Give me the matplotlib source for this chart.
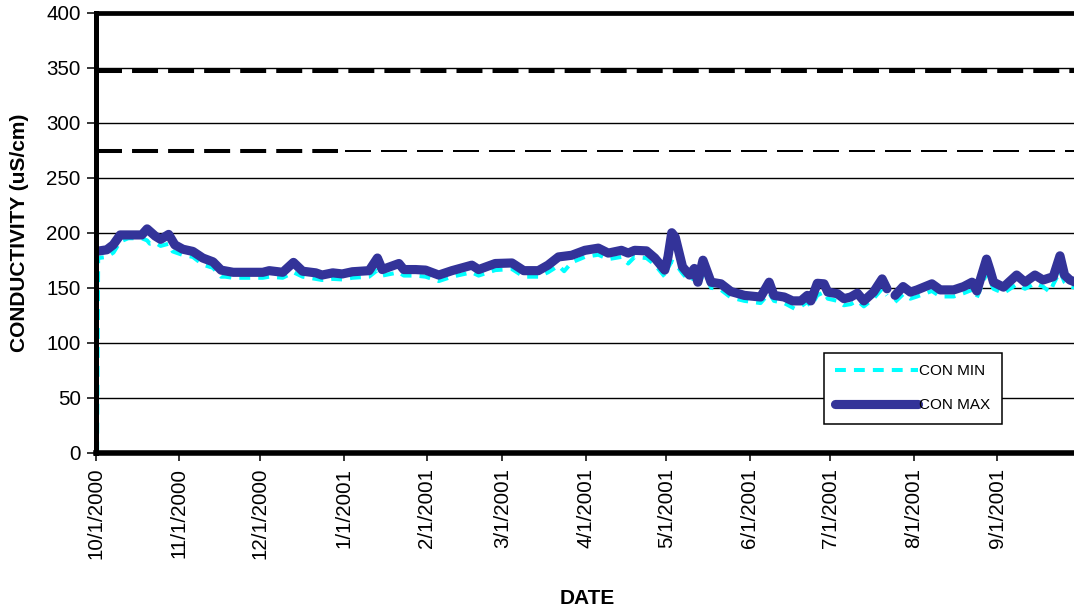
import numpy as np
import matplotlib
matplotlib.use("Agg")
import matplotlib.pyplot as plt

# ---------------- data (x = days since 10/1/2000) ----------------
MONTH_DAYS = [0, 31, 61, 92, 123, 151, 182, 212, 243, 273, 304, 335]
MONTH_LABELS = ["10/1/2000", "11/1/2000", "12/1/2000", "1/1/2001", "2/1/2001",
                "3/1/2001", "4/1/2001", "5/1/2001", "6/1/2001", "7/1/2001",
                "8/1/2001", "9/1/2001"]

MAX_DAYS = [0, 4, 6.4, 9, 17, 19, 22, 24, 27, 29.3, 32.3, 36, 39.7, 43.5, 46.5,
            51, 62, 64.4, 69.4, 73.4, 76.8, 81.7, 84, 88, 91.5, 95.3, 101.5,
            104.6, 106.4, 112.6, 114.4, 118.8, 122.5, 127.4, 132.3, 139.7, 142.2,
            148.4, 154.6, 159, 164.4, 168, 171.9, 176.8, 181.7, 186.7, 190.4,
            195.3, 197.8, 200.2, 204.6, 207.7, 211.4, 212.6, 214, 215.3, 218,
            220.6, 222.4, 223.7, 225.6, 226.8, 228.6, 232.3, 236, 241, 247,
            250.2, 252, 255.8, 258.9, 262, 264.4, 265.7, 268.1, 270.6, 272,
            275.6, 278, 280.5, 283, 285.4, 289, 292.2, 294, 295.5, 297, 300,
            302.7, 305.2, 310.7, 313.8, 318.8, 322.5, 325.6, 327.4, 331, 332.3,
            333.6, 337.3, 342.2, 345.3, 349, 352, 355.8, 358.3, 360, 362, 364]
MAX_VALUES = [183, 184.5, 189, 198, 198, 203.5, 197, 194, 198.5, 189, 185, 183,
              177, 173.5, 166, 164, 164, 165.5, 164, 173, 165, 163.5, 161.5,
              163.5, 162.5, 164.5, 165.5, 177, 166.5, 172, 166.5, 166.5, 166,
              161.5, 165.5, 170.5, 166.5, 172, 172.5, 165.5, 165.5, 170.5, 178,
              179.5, 184, 186, 181.5, 184, 181.5, 184, 183.5, 177, 166, 178,
              200, 196, 169, 161.5, 167.5, 155, 175, 167, 155, 153.5, 146.5, 143,
              141.5, 155, 143, 141.5, 138, 138, 143, 138, 154, 153.5, 146, 144.5,
              140, 141.5, 145, 138, 146, 158, 149, np.nan, 143, 151, 146, 148,
              153.5, 148, 148, 151, 155, 147, 176, 166, 155, 150.5, 161.5, 155,
              161.5, 157, 160, 179, 161.5, 157, 155]

MIN_DAYS = [0.4, 0.8, 4, 6.5, 9, 12, 17, 19, 20, 22, 24, 27, 28.5, 32, 36, 39.7,
            43.5, 46.5, 48, 51, 62, 64.4, 69.4, 73.4, 76.8, 81.7, 84, 88, 91.5,
            95.3, 101.5, 104.6, 106.4, 112.6, 114.4, 118.8, 122.5, 127.4, 132.3,
            139.7, 142.2, 148.4, 154.6, 159, 164.4, 168, 171.9, 174, 176.8,
            181.7, 186.7, 190.4, 195.3, 197.8, 200.2, 204.6, 207.7, 211.4, 212.6,
            214, 215.3, 218, 220.6, 222.4, 223.7, 225.6, 226.8, 228.6, 232.3,
            236, 241, 247, 250.2, 252, 255.8, 259.6, 262, 264.4, 265.7, 268.1,
            270.6, 272, 275.6, 278, 280.5, 283, 285.4, 289, 292.2, 294, 295.5,
            297, 300, 302.7, 305.2, 310.7, 313.8, 318.8, 322.5, 325.6, 327.4,
            331, 332.3, 333.6, 337.3, 342.2, 345.3, 349, 352, 354.6, 355.8,
            358.3, 360, 362, 364]
MIN_VALUES = [0, 177, 178, 182, 192, 195, 195, 193, 190, 191, 188, 190, 183, 180,
              178, 171, 168, 160, 160, 159, 159, 160, 159, 164, 160, 158, 157,
              158, 157.5, 159, 160, 166, 161, 164, 161, 161, 160, 156, 160, 164,
              161, 166, 167, 160, 160, 164, 170, 165, 173, 178, 180, 176, 178,
              172, 178, 177, 171, 160, 168, 174, 172, 163, 156, 160, 150, 162,
              160, 150, 148, 141, 138, 136, 145, 138, 136, 131, 133, 137, 133,
              143, 146, 140, 138, 134, 135, 138, 133, 140, 149, 143, np.nan, 137,
              144, 140, 142, 147, 142, 142, 145, 148, 141, 163, 156, 149, 145,
              153, 149, 154, 151, 146, 153, 165, 155, 151, 150]

UPPER_LIMIT = 347
LOWER_LIMIT = 274
LOWER_THICK_END = 90
X_END = 365

SERIES_NAMES = ["CON MIN", "CON MAX"]
MAX_COLOR = "#333399"
MIN_COLOR = "#00FFFF"

# ---------------- figure ----------------
W, H = 1074, 613
fig = plt.figure(figsize=(W / 100, H / 100), dpi=100)
ax = fig.add_axes([96 / W, 1 - 452.5 / H, 982 / W, 439.5 / H])

font = "Liberation Sans"

ax.set_xlim(0, X_END)
ax.set_ylim(0, 400)
ax.set_yticks(np.arange(0, 401, 50))
ax.set_xticks(MONTH_DAYS)
ax.set_xticklabels(MONTH_LABELS, rotation=90, fontfamily=font, fontsize=14.8)
for lbl in ax.get_yticklabels():
    lbl.set_fontfamily(font)
    lbl.set_fontsize(14.8)

ax.grid(axis="y", color="black", linewidth=1.0)
ax.grid(axis="x", visible=False)

ax.tick_params(axis="y", direction="out", length=6.5, width=1.1, pad=4.5,
               colors="black")
ax.tick_params(axis="x", direction="out", length=5.4, width=1.1, pad=5.5,
               colors="black")

for side, lw in [("left", 3.6), ("bottom", 4.0), ("top", 3.4)]:
    ax.spines[side].set_linewidth(lw)
    ax.spines[side].set_color("black")
ax.spines["right"].set_visible(False)

# limit lines
ax.plot([0, X_END], [UPPER_LIMIT, UPPER_LIMIT], color="black", lw=2.9,
        dashes=(6.45, 2.5), zorder=1.8)
ax.plot([0, LOWER_THICK_END], [LOWER_LIMIT, LOWER_LIMIT], color="black", lw=2.9,
        dashes=(6.45, 2.5), zorder=1.8)
ax.plot([LOWER_THICK_END + 2.5, X_END], [LOWER_LIMIT, LOWER_LIMIT], color="black",
        lw=1.44, dashes=(13, 5), zorder=1.8)

# series
ln_min, = ax.plot(MIN_DAYS, MIN_VALUES, color=MIN_COLOR, lw=2.9,
                  dashes=(2.7, 2.0), label=SERIES_NAMES[0], zorder=2)
ln_max, = ax.plot(MAX_DAYS, MAX_VALUES, color=MAX_COLOR, lw=6.6,
                  solid_capstyle="round", solid_joinstyle="round",
                  label=SERIES_NAMES[1], zorder=2.1)

leg = ax.legend(handles=[ln_min, ln_max], loc="upper left",
                bbox_to_anchor=(0.741, 0.2264), borderaxespad=0,
                prop={"family": font, "size": 11}, handlelength=5.4,
                handletextpad=0.1, borderpad=0.75, labelspacing=1.3,
                frameon=True, fancybox=False, framealpha=1, edgecolor="black")
leg.get_frame().set_linewidth(1.1)

ax.set_ylabel("CONDUCTIVITY (uS/cm)", fontfamily=font, fontsize=15,
              fontweight="bold", va="center")
ax.yaxis.set_label_coords((19.5 - 96) / 982, 0.5)
ax.set_xlabel("DATE", fontfamily=font, fontsize=15, fontweight="bold",
              va="center")
ax.xaxis.set_label_coords(0.5, (452.5 - 598) / 439.5)

fig.savefig("out.png", dpi=100)
